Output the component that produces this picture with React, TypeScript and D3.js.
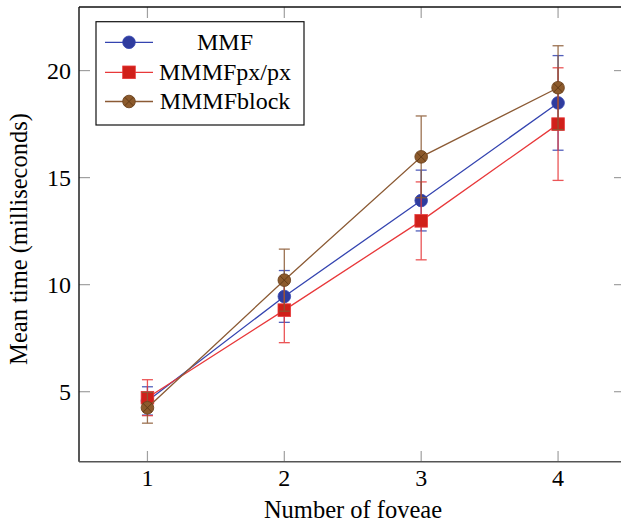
import React, { useEffect, useRef } from 'react';
import * as d3 from 'd3';

const foveae = [1, 2, 3, 4];
const mmfMean = [4.57, 9.45, 13.93, 18.49];
const mmfErr = [0.66, 1.21, 1.42, 2.21];
const pxMean = [4.72, 8.81, 12.98, 17.5];
const pxErr = [0.84, 1.52, 1.82, 2.63];
const blockMean = [4.25, 10.21, 15.97, 19.2];
const blockErr = [0.72, 1.45, 1.91, 1.96];
const yTicks = [5, 10, 15, 20];

const series = [
  { name: 'MMF', mean: mmfMean, err: mmfErr, line: '#3444b0', fill: '#2f3c9e', mark: 'circle' },
  { name: 'MMMFpx/px', mean: pxMean, err: pxErr, line: '#e8383a', fill: '#d0201a', mark: 'square' },
  { name: 'MMMFblock', mean: blockMean, err: blockErr, line: '#8b5a34', fill: '#8c5a2c', mark: 'otimes' },
];

function App() {
  const svgRef = useRef(null);
  const width = 621;
  const height = 523;

  useEffect(() => {
    const svg = d3.select(svgRef.current);
    svg.selectAll('*').remove();

    const x = d3.scaleLinear().domain([0.5, 4.5]).range([79, 626.5]);
    const y = d3.scaleLinear().domain([1.73, 22.97]).range([461.7, 7]);

    // ticks (inside, both sides)
    const ticks = svg.append('g').attr('stroke', '#a0a0a0').attr('stroke-width', 1.2);
    foveae.forEach(v => {
      ticks.append('line').attr('x1', x(v)).attr('x2', x(v)).attr('y1', 461.7).attr('y2', 451);
      ticks.append('line').attr('x1', x(v)).attr('x2', x(v)).attr('y1', 7).attr('y2', 18);
    });
    yTicks.forEach(v => {
      ticks.append('line').attr('x1', 79).attr('x2', 90).attr('y1', y(v)).attr('y2', y(v));
      ticks.append('line').attr('x1', 621).attr('x2', 614).attr('y1', y(v)).attr('y2', y(v));
    });

    // frame
    svg.append('line').attr('x1', 79).attr('x2', 621).attr('y1', 7).attr('y2', 7)
      .attr('stroke', '#111').attr('stroke-width', 1.4);
    svg.append('line').attr('x1', 79).attr('x2', 79).attr('y1', 7).attr('y2', 461.7)
      .attr('stroke', '#111').attr('stroke-width', 1.4);
    svg.append('line').attr('x1', 79).attr('x2', 621).attr('y1', 461.7).attr('y2', 461.7)
      .attr('stroke', '#555').attr('stroke-width', 1.6);

    // tick labels
    svg.append('g').selectAll('text').data(foveae).join('text')
      .attr('x', d => x(d)).attr('y', 486)
      .attr('text-anchor', 'middle')
      .attr('font-size', 24)
      .text(d => d);
    svg.append('g').selectAll('text').data(yTicks).join('text')
      .attr('x', 71).attr('y', d => y(d) + 8.3)
      .attr('text-anchor', 'end')
      .attr('font-size', 24)
      .text(d => d);

    // axis labels
    svg.append('text')
      .attr('x', 353).attr('y', 518)
      .attr('text-anchor', 'middle')
      .attr('font-size', 24.5)
      .text('Number of foveae');
    svg.append('text')
      .attr('transform', 'translate(27,239) rotate(-90)')
      .attr('text-anchor', 'middle')
      .attr('font-size', 24.5)
      .text('Mean time (milliseconds)');

    function marker(g, s, cx, cy) {
      if (s.mark === 'circle') {
        g.append('circle').attr('cx', cx).attr('cy', cy).attr('r', 6.3)
          .attr('fill', s.fill).attr('stroke', s.line).attr('stroke-width', 0.8);
      } else if (s.mark === 'square') {
        g.append('rect').attr('x', cx - 6.3).attr('y', cy - 6.3).attr('width', 12.6).attr('height', 12.6)
          .attr('fill', s.fill).attr('stroke', s.line).attr('stroke-width', 0.8);
      } else {
        const r = 6.3;
        g.append('circle').attr('cx', cx).attr('cy', cy).attr('r', r)
          .attr('fill', s.fill).attr('stroke', '#6e4520').attr('stroke-width', 0.9);
        const k = r * Math.SQRT1_2;
        g.append('path')
          .attr('d', `M${cx - k},${cy - k}L${cx + k},${cy + k}M${cx - k},${cy + k}L${cx + k},${cy - k}`)
          .attr('stroke', '#5c3815').attr('stroke-width', 0.9);
      }
    }

    const line = d3.line().x(d => x(d[0])).y(d => y(d[1]));

    series.forEach(s => {
      const g = svg.append('g');
      const pts = foveae.map((f, i) => [f, s.mean[i]]);
      g.append('path').attr('d', line(pts)).attr('fill', 'none')
        .attr('stroke', s.line).attr('stroke-width', 1.3);
      foveae.forEach((f, i) => {
        const cx = x(f);
        const top = y(s.mean[i] + s.err[i]);
        const bot = y(s.mean[i] - s.err[i]);
        const eb = g.append('g').attr('stroke', s.line).attr('stroke-width', 1.3).attr('opacity', 0.85);
        eb.append('line').attr('x1', cx).attr('x2', cx).attr('y1', top).attr('y2', bot);
        eb.append('line').attr('x1', cx - 5.5).attr('x2', cx + 5.5).attr('y1', top).attr('y2', top);
        eb.append('line').attr('x1', cx - 5.5).attr('x2', cx + 5.5).attr('y1', bot).attr('y2', bot);
      });
      foveae.forEach((f, i) => marker(g, s, x(f), y(s.mean[i])));
    });

    // legend
    const lg = svg.append('g');
    lg.append('rect').attr('x', 96).attr('y', 21.7).attr('width', 208).attr('height', 103.3)
      .attr('fill', 'white').attr('stroke', '#111').attr('stroke-width', 1.2);
    const rows = [42.3, 72.3, 101.5];
    series.forEach((s, i) => {
      const ry = rows[i];
      lg.append('line').attr('x1', 105).attr('x2', 153).attr('y1', ry).attr('y2', ry)
        .attr('stroke', s.line).attr('stroke-width', 1.3);
      marker(lg, s, 129, ry);
      lg.append('text').attr('x', 225).attr('y', ry + 7.5)
        .attr('text-anchor', 'middle')
        .attr('font-size', 24)
        .text(s.name);
    });
  }, []);

  return (
    <div style={{ position: 'absolute', left: 0, top: 0 }}>
      <svg ref={svgRef} width={width} height={height}
        style={{ display: 'block', fontFamily: "'Liberation Serif', 'DejaVu Serif', 'Times New Roman', Times, serif" }}></svg>
    </div>
  );
}

export default App;
